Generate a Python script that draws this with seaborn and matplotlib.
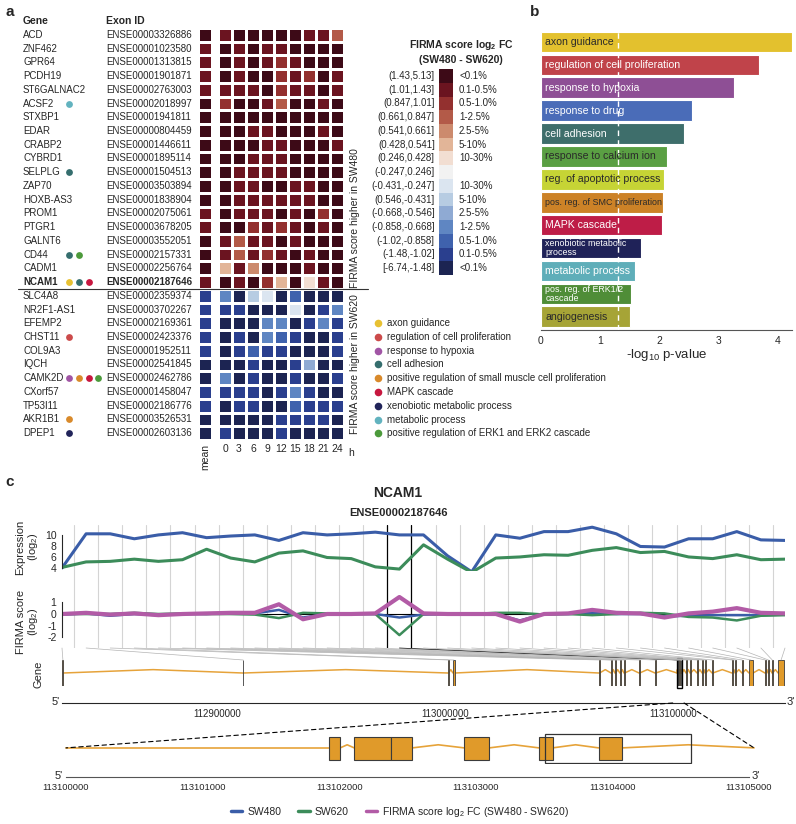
import numpy as np
import pandas as pd
import matplotlib
matplotlib.use("Agg")
import matplotlib.pyplot as plt
from matplotlib.colors import ListedColormap
from matplotlib.patches import Rectangle, ConnectionPatch
from matplotlib.lines import Line2D
import seaborn as sns

# ---------------- data: panel a ----------------
genes = ["ACD", "ZNF462", "GPR64", "PCDH19", "ST6GALNAC2", "ACSF2", "STXBP1", "EDAR",
         "CRABP2", "CYBRD1", "SELPLG", "ZAP70", "HOXB-AS3", "PROM1", "PTGR1", "GALNT6",
         "CD44", "CADM1", "NCAM1", "SLC4A8", "NR2F1-AS1", "EFEMP2", "CHST11", "COL9A3",
         "IQCH", "CAMK2D", "CXorf57", "TP53I11", "AKR1B1", "DPEP1"]
exon_ids = ["ENSE00003326886", "ENSE00001023580", "ENSE00001313815", "ENSE00001901871",
            "ENSE00002763003", "ENSE00002018997", "ENSE00001941811", "ENSE00000804459",
            "ENSE00001446611", "ENSE00001895114", "ENSE00001504513", "ENSE00003503894",
            "ENSE00001838904", "ENSE00002075061", "ENSE00003678205", "ENSE00003552051",
            "ENSE00002157331", "ENSE00002256764", "ENSE00002187646", "ENSE00002359374",
            "ENSE00003702267", "ENSE00002169361", "ENSE00002423376", "ENSE00001952511",
            "ENSE00002541845", "ENSE00002462786", "ENSE00001458047", "ENSE00002186776",
            "ENSE00003526531", "ENSE00002603136"]
time_points = [0, 3, 6, 9, 12, 15, 18, 21, 24]

# bin index of each cell: 1 = (1.43,5.13] ... 15 = [-6.74,-1.48]
mean_bin = [1, 2, 2, 2, 2, 1, 1, 1, 1, 1, 1, 1, 1, 2, 2, 1, 1, 1, 2,
            14, 14, 14, 14, 14, 15, 15, 14, 14, 15, 15]
time_bin = [
    [2, 1, 1, 1, 1, 1, 2, 2, 4],
    [1, 2, 1, 2, 2, 1, 1, 1, 1],
    [1, 2, 1, 2, 3, 2, 1, 1, 1],
    [1, 2, 1, 1, 3, 2, 3, 1, 2],
    [2, 2, 2, 1, 3, 2, 2, 1, 2],
    [3, 1, 1, 2, 4, 1, 1, 2, 1],
    [1, 1, 1, 1, 1, 1, 1, 1, 1],
    [1, 1, 2, 2, 1, 1, 1, 2, 1],
    [1, 1, 1, 2, 2, 1, 1, 1, 2],
    [1, 1, 2, 2, 2, 1, 1, 1, 1],
    [1, 2, 2, 2, 2, 1, 1, 1, 1],
    [1, 2, 2, 1, 1, 2, 2, 1, 1],
    [1, 2, 2, 2, 2, 2, 2, 1, 1],
    [1, 2, 2, 2, 1, 2, 1, 3, 1],
    [1, 1, 3, 2, 3, 2, 1, 2, 1],
    [2, 4, 2, 2, 1, 2, 1, 1, 1],
    [2, 4, 2, 3, 2, 1, 2, 1, 1],
    [6, 2, 5, 1, 1, 1, 2, 1, 1],
    [1, 2, 1, 3, 6, 1, 7, 2, 1],
    [12, 15, 10, 9, 15, 13, 15, 15, 15],
    [14, 14, 15, 15, 15, 9, 15, 14, 12],
    [15, 15, 15, 12, 12, 15, 14, 12, 14],
    [15, 14, 15, 12, 13, 14, 15, 15, 14],
    [15, 14, 13, 14, 14, 15, 15, 15, 14],
    [15, 15, 14, 15, 15, 14, 11, 15, 15],
    [12, 15, 14, 15, 15, 14, 15, 15, 14],
    [14, 14, 14, 15, 14, 12, 14, 15, 15],
    [15, 14, 14, 15, 15, 13, 14, 14, 14],
    [15, 15, 15, 15, 14, 14, 14, 14, 15],
    [14, 15, 15, 15, 14, 15, 15, 15, 15],
]
bin_ranges = ["(1.43,5.13]", "(1.01,1.43]", "(0.847,1.01]", "(0.661,0.847]", "(0.541,0.661]",
              "(0.428,0.541]", "(0.246,0.428]", "(-0.247,0.246]", "(-0.431,-0.247]",
              "(0.546,-0.431]", "(-0.668,-0.546]", "(-0.858,-0.668]", "(-1.02,-0.858]",
              "(-1.48,-1.02]", "[-6.74,-1.48]"]
bin_pcts = ["<0.1%", "0.1-0.5%", "0.5-1.0%", "1-2.5%", "2.5-5%", "5-10%", "10-30%", "",
            "10-30%", "5-10%", "2.5-5%", "1-2.5%", "0.5-1.0%", "0.1-0.5%", "<0.1%"]
bin_colors = ["#3D0A17", "#6B1420", "#93302F", "#B35A48", "#CC8A6D", "#E2B598", "#F2DED2",
              "#F2F2F2", "#DBE5F0", "#B7CCE2", "#8FAAD3", "#5F86C2", "#3F62AD", "#2A3F8E",
              "#1C2452"]

legend_terms = ["axon guidance", "regulation of cell proliferation", "response to hypoxia",
                "cell adhesion", "positive regulation of small muscle cell proliferation",
                "MAPK cascade", "xenobiotic metabolic process", "metabolic process",
                "positive regulation of ERK1 and ERK2 cascade"]
legend_colors = ["#E8C132", "#CC4B4B", "#A155A5", "#356E6E", "#D98A2B", "#C7173F",
                 "#21245A", "#62B3BF", "#4C9A3B"]
gene_terms = {"ACSF2": [7], "SELPLG": [3], "CD44": [3, 8], "NCAM1": [0, 3, 5],
              "CHST11": [1], "CAMK2D": [2, 4, 5, 8], "AKR1B1": [4], "DPEP1": [6]}

# ---------------- data: panel b ----------------
go_terms = ["axon guidance", "regulation of cell proliferation", "response to hypoxia",
            "response to drug", "cell adhesion", "response to calcium ion",
            "reg. of apoptotic process", "pos. reg. of SMC proliferation", "MAPK cascade",
            "xenobiotic metabolic\nprocess", "metabolic process", "pos. reg. of ERK1/2\ncascade",
            "angiogenesis"]
go_logp = [4.24, 3.68, 3.26, 2.55, 2.42, 2.12, 2.08, 2.06, 2.04, 1.69, 1.59, 1.52, 1.51]
go_colors = ["#E3C12E", "#C0434A", "#8E4F95", "#4A6CB8", "#3E6E6B", "#5A9F43", "#C6D435",
             "#CC8227", "#BE1D47", "#1F2258", "#5FAEB9", "#4F8D37", "#A6A436"]
go_dark_text = [True, False, False, False, False, True, True, True, False, False, False,
                False, True]
go_small = [False, False, False, False, False, False, False, True, False, True, False,
            True, False]
p_cutoff = 0.05

# ---------------- data: panel c ----------------
exon_index = list(range(31))
sw480_expr = [4.0, 10.2, 10.2, 9.3, 10.0, 10.4, 9.5, 9.8, 10.0, 9.0, 10.4, 10.0, 10.2, 10.5,
              10.0, 10.0, 6.2, 3.3, 10.0, 9.4, 10.6, 10.6, 11.4, 10.2, 7.9, 7.8, 9.3, 9.3,
              10.6, 9.1, 9.0]
sw620_expr = [4.1, 5.1, 5.2, 5.6, 5.2, 5.5, 7.4, 5.8, 5.1, 6.7, 7.1, 5.9, 5.7, 4.2, 3.8,
              8.2, 5.6, 3.2, 5.8, 6.0, 6.4, 6.3, 7.2, 7.7, 6.8, 7.0, 6.0, 5.7, 6.4, 5.5, 5.6]
sw480_firma = [-0.05, 0.05, -0.15, 0.0, -0.1, 0.0, 0.0, 0.1, 0.05, 0.35, -0.3, 0.0, 0.0, 0.0,
               -0.3, -0.05, 0.0, 0.0, 0.0, -0.55, 0.0, 0.0, 0.1, 0.0, 0.0, -0.2, -0.15, -0.1,
               -0.1, -0.1, -0.05]
sw620_firma = [0.0, 0.0, 0.0, 0.1, 0.0, 0.05, 0.0, 0.0, -0.05, -0.35, 0.1, 0.05, 0.0, 0.0,
               -1.8, 0.0, 0.0, 0.0, 0.1, 0.1, -0.05, 0.0, -0.1, 0.0, 0.1, 0.05, -0.25, -0.3,
               -0.55, -0.15, -0.1]
fc_firma = [0.0, 0.1, -0.05, 0.05, -0.1, 0.0, 0.05, 0.1, 0.1, 0.83, -0.45, 0.0, 0.0, 0.05,
            1.45, 0.05, 0.0, 0.0, 0.0, -0.65, 0.0, 0.05, 0.35, 0.1, 0.05, -0.3, 0.05, 0.2,
            0.5, 0.1, 0.05]
highlight_exon = 14

gene_span = (112831800, 113149320)
exon_start = [112832000, 112911200, 113001300, 113003500, 113067600, 113072900, 113074600,
              113076800, 113078600, 113085200, 113092200, 113101925, 113102110, 113102381,
              113102914, 113103462, 113103899, 113105850, 113107600, 113110700, 113112900,
              113114200, 113117300, 113126000, 113127400, 113130400, 113133500, 113140500,
              113141900, 113143600, 113146300]
exon_end = [112832400, 112911500, 113001600, 113004400, 113067900, 113073200, 113074900,
            113077100, 113078900, 113085500, 113092500, 113102007, 113102381, 113102536,
            113103099, 113103562, 113104073, 113106100, 113107900, 113111000, 113113200,
            113114500, 113117600, 113126300, 113127700, 113130700, 113135300, 113140800,
            113142200, 113143900, 113148900]
zoom_span = (113100000, 113105000)
zoom_gene_end = 113105037
zoom_box = (113103507, 113104573)

# ---------------- style ----------------
sns.set_style("white")
plt.rcParams["font.family"] = ["Liberation Sans", "DejaVu Sans"]
plt.rcParams["axes.unicode_minus"] = False
plt.rcParams["mathtext.default"] = "regular"

W, H = 796, 824
fig = plt.figure(figsize=(W / 100, H / 100), dpi=100)


def add_ax(x0, y0, x1, y1, **kw):
    return fig.add_axes([x0 / W, 1 - y1 / H, (x1 - x0) / W, (y1 - y0) / H], **kw)


ROW_TOP, ROW_H = 28.0, 13.733


def row_y(i):
    return ROW_TOP + (i + 0.5) * ROW_H


cmap = ListedColormap(bin_colors)
n_rows = len(genes)
hm_bottom = ROW_TOP + n_rows * ROW_H

# ---- panel a heatmaps ----
ax_mean = add_ax(198, ROW_TOP, 212, hm_bottom)
sns.heatmap(np.array(mean_bin)[:, None], ax=ax_mean, cmap=cmap, vmin=0.5, vmax=15.5,
            cbar=False, linewidths=1, linecolor="white", xticklabels=["mean"],
            yticklabels=False)
ax_mean.tick_params(axis="x", length=0, labelsize=7.5, labelrotation=90, pad=3)

ax_time = add_ax(218, ROW_TOP, 344, hm_bottom)
sns.heatmap(np.array(time_bin), ax=ax_time, cmap=cmap, vmin=0.5, vmax=15.5, cbar=False,
            linewidths=1, linecolor="white", xticklabels=time_points, yticklabels=False)
ax_time.tick_params(axis="x", length=0, labelsize=7.5, labelrotation=0, pad=3)

# colour key
ax_cb = add_ax(439, 69.1, 453, 69.1 + 15 * ROW_H)
sns.heatmap(np.arange(1, 16)[:, None], ax=ax_cb, cmap=cmap, vmin=0.5, vmax=15.5, cbar=False,
            xticklabels=False, yticklabels=bin_ranges)
ax_cb.tick_params(axis="y", length=0, labelsize=7, labelrotation=0, pad=3)
for k, p in enumerate(bin_pcts):
    ax_cb.text(1.43, k + 0.5, p, va="center", ha="left", fontsize=7)

# ---- panel b ----
ax_b = add_ax(541, 30, 792, 330)
df_go = pd.DataFrame({"term": go_terms, "logp": go_logp})
sns.barplot(data=df_go, x="logp", y="term", hue="term", palette=dict(zip(go_terms, go_colors)),
            legend=False, width=0.9, saturation=1, edgecolor="white", linewidth=0.8, ax=ax_b)
ax_b.set_xlim(0, 4.24)
ax_b.set_ylim(12.58, -0.524)
ax_b.axvline(-np.log10(p_cutoff), color="white", lw=1, ls=(0, (4, 3)), zorder=3)
for i, term in enumerate(go_terms):
    ax_b.text(0.07, i, term, va="center", ha="left", zorder=4,
              color="#2a2a2a" if go_dark_text[i] else "white",
              fontsize=6.4 if go_small[i] else 7.6, linespacing=0.95)
sns.despine(ax=ax_b, left=True)
ax_b.spines["bottom"].set_color("#555555")
ax_b.set_yticks([])
ax_b.set_ylabel("")
ax_b.set_xticks([0, 1, 2, 3, 4])
ax_b.tick_params(axis="x", length=3, labelsize=7.5, pad=1, color="#555555")
ax_b.set_xlabel("-log$_{10}$ p-value", fontsize=9.5, labelpad=1)

# ---- panel c ----
blue, green, pink = "#3A5DA8", "#3C8C5A", "#B25BA6"
X0, X1 = 62, 785
ax_grid = add_ax(X0, 525, X1, 648, zorder=0)
ax_grid.set_xlim(0, 30)
ax_grid.axis("off")
for i in exon_index[:-1]:
    hl = i in (highlight_exon - 1, highlight_exon)
    ax_grid.axvline(i + 0.5, color="black" if hl else "#d4d4d4", lw=0.9 if hl else 0.8)

ax_e = add_ax(X0, 525, X1, 571, zorder=1)
ax_e.patch.set_visible(False)
df_expr = pd.DataFrame({"exon": exon_index * 2, "value": sw480_expr + sw620_expr,
                        "line": ["SW480"] * 31 + ["SW620"] * 31})
sns.lineplot(data=df_expr, x="exon", y="value", hue="line",
             palette={"SW480": blue, "SW620": green}, linewidth=2.2, legend=False, ax=ax_e)
ax_e.set_xlim(0, 30)
ax_e.set_ylim(3.45, 11.8)
sns.despine(ax=ax_e, bottom=True)
ax_e.spines["left"].set_bounds(4, 10)
ax_e.set_xticks([])
ax_e.set_yticks([4, 6, 8, 10])
ax_e.tick_params(axis="y", length=3, labelsize=7.5, pad=1)
ax_e.set_xlabel("")
ax_e.set_ylabel("")

ax_f = add_ax(X0, 595, X1, 648, zorder=1)
ax_f.patch.set_visible(False)
ax_f.axhline(0, color="black", lw=0.8)
df_firma = pd.DataFrame({"exon": exon_index * 2, "value": sw480_firma + sw620_firma,
                         "line": ["SW480"] * 31 + ["SW620"] * 31})
sns.lineplot(data=df_firma, x="exon", y="value", hue="line",
             palette={"SW480": blue, "SW620": green}, linewidth=1.8, legend=False, ax=ax_f)
sns.lineplot(x=exon_index, y=fc_firma, color=pink, linewidth=3.0, ax=ax_f)
ax_f.set_xlim(0, 30)
ax_f.set_ylim(-2.9, 1.62)
sns.despine(ax=ax_f, bottom=True)
ax_f.spines["left"].set_bounds(-2, 1)
ax_f.set_xticks([])
ax_f.set_yticks([-2, -1, 0, 1])
ax_f.tick_params(axis="y", length=3, labelsize=7.5, pad=1)
ax_f.set_xlabel("")
ax_f.set_ylabel("")

# gene track
exon_col, intron_col = "#E09A2A", "#E6A33A"
ax_g = add_ax(X0, 660, X1, 686)
ax_g.set_xlim(*gene_span)
ax_g.set_ylim(0, 1)
ax_g.axis("off")
for i in range(len(exon_start) - 1):
    a, b = exon_end[i], exon_start[i + 1]
    ax_g.plot([a, (a + b) / 2, b], [0.5, 0.63, 0.5], color=intron_col, lw=1.1, zorder=1)
for s, e in zip(exon_start, exon_end):
    ax_g.add_patch(Rectangle((s, 0), e - s, 1, fc=exon_col, ec="#3b3b3b", lw=0.6, zorder=2))
hs, he = exon_start[highlight_exon], exon_end[highlight_exon]
ax_g.add_patch(Rectangle((hs - 900, -0.08), he - hs + 1800, 1.16, fill=False, ec="black",
                         lw=1.0, zorder=3, clip_on=False))

for i, (s, e) in enumerate(zip(exon_start, exon_end)):
    con = ConnectionPatch(xyA=(exon_index[i], 0), coordsA=ax_f.get_xaxis_transform(),
                          xyB=((s + e) / 2, 1), coordsB=ax_g.get_xaxis_transform(),
                          color="black" if i == highlight_exon else "#b4b4b4", lw=0.5)
    fig.add_artist(con)

ax_x1 = add_ax(X0, 690, X1, 703)
ax_x1.set_xlim(*gene_span)
sns.despine(ax=ax_x1, left=True)
ax_x1.set_yticks([])
ax_x1.set_xticks([112900000, 113000000, 113100000])
ax_x1.set_xticklabels(["112900000", "113000000", "113100000"])
ax_x1.tick_params(axis="x", length=3, labelsize=7, pad=1)
ax_x1.patch.set_visible(False)

# zoomed gene region
ZX0, ZX1 = 66, 749
ax_z = add_ax(ZX0, 733, ZX1, 764)
ax_z.set_xlim(*zoom_span)
ax_z.set_ylim(0, 1)
ax_z.axis("off")
zs = [s for s in exon_start if zoom_span[0] <= s <= zoom_span[1]]
ze = [e for s, e in zip(exon_start, exon_end) if zoom_span[0] <= s <= zoom_span[1]]
bounds = [zoom_span[0]] + [v for pair in zip(zs, ze) for v in pair] + [zoom_gene_end]
for a, b in zip(bounds[0::2], bounds[1::2]):
    if b - a > 0:
        peak = 0.52 if a == zoom_span[0] else 0.62
        ax_z.plot([a, (a + b) / 2, b], [0.52, peak, 0.52], color=intron_col, lw=1.2,
                  zorder=1, clip_on=False)
for s, e in zip(zs, ze):
    ax_z.add_patch(Rectangle((s, 0.13), e - s, 0.74, fc=exon_col, ec="#3b3b3b", lw=0.8, zorder=2))
ax_z.add_patch(Rectangle((zoom_box[0], 0.03), zoom_box[1] - zoom_box[0], 0.94, fill=False,
                         ec="#333333", lw=0.9, zorder=3))

for xa, xb in [(zoom_span[0], zoom_span[0]), (zoom_span[1], zoom_gene_end)]:
    con = ConnectionPatch(xyA=(xa, 0), coordsA=ax_x1.get_xaxis_transform(),
                          xyB=(xb, 0.52), coordsB=ax_z.transData,
                          color="black", lw=0.8, ls=(0, (4, 3)))
    fig.add_artist(con)

ax_x2 = add_ax(ZX0, 766, ZX1, 777)
ax_x2.set_xlim(*zoom_span)
sns.despine(ax=ax_x2, left=True)
ax_x2.spines["bottom"].set_color("#555555")
ax_x2.set_yticks([])
zt = list(range(zoom_span[0], zoom_span[1] + 1, 1000))
ax_x2.set_xticks(zt)
ax_x2.set_xticklabels([str(t) for t in zt])
ax_x2.tick_params(axis="x", length=3, labelsize=6.8, pad=1, color="#555555")
ax_x2.patch.set_visible(False)

fig.legend(handles=[Line2D([], [], color=blue, lw=2.5), Line2D([], [], color=green, lw=2.5),
                    Line2D([], [], color=pink, lw=2.5)],
           labels=["SW480", "SW620", "FIRMA score log$_2$ FC (SW480 - SW620)"],
           loc="center", bbox_to_anchor=(400 / W, 1 - 812 / H), ncol=3, frameon=False,
           fontsize=7.5, handlelength=1.1, columnspacing=1.6, handletextpad=0.5)

# ---------------- text overlay (pixel coordinates) ----------------
ov = fig.add_axes([0, 0, 1, 1], zorder=10)
ov.set_xlim(0, W)
ov.set_ylim(H, 0)
ov.axis("off")

ov.text(5, 12, "a", fontsize=11, fontweight="bold", va="center")
ov.text(530, 12, "b", fontsize=11, fontweight="bold", va="center")
ov.text(5, 482, "c", fontsize=11, fontweight="bold", va="center")

ov.text(23, 21, "Gene", fontsize=7.5, fontweight="bold", va="center")
ov.text(106, 21, "Exon ID", fontsize=7.5, fontweight="bold", va="center")
for i, (g, ex) in enumerate(zip(genes, exon_ids)):
    wt = "bold" if g == "NCAM1" else "normal"
    ov.text(23, row_y(i), g, fontsize=7, va="center", fontweight=wt)
    ov.text(106, row_y(i), ex, fontsize=7, va="center", fontweight=wt)
    for k, t in enumerate(gene_terms.get(g, [])):
        ov.scatter(69 + 9.8 * k, row_y(i), s=24, color=legend_colors[t], linewidths=0)
ov.plot([18, 368], [ROW_TOP + 19 * ROW_H, ROW_TOP + 19 * ROW_H], color="#333333", lw=0.8)
ov.text(348, 453, "h", fontsize=7.5, va="center")
ov.text(355, ROW_TOP + 19 * ROW_H - 1, "FIRMA score higher in SW480", rotation=90,
        fontsize=7.5, ha="center", va="bottom")
ov.text(355, (ROW_TOP + 19 * ROW_H + hm_bottom) / 2, "FIRMA score higher in SW620",
        rotation=90, fontsize=7.5, ha="center", va="center")

ov.text(461, 45, "FIRMA score log$_2$ FC", fontsize=7.5, fontweight="bold", ha="center",
        va="center")
ov.text(461, 60, "(SW480 - SW620)", fontsize=7.5, fontweight="bold", ha="center", va="center")

for k, (term, col) in enumerate(zip(legend_terms, legend_colors)):
    y = 323 + 13.8 * k
    ov.scatter(378, y, s=30, color=col, linewidths=0)
    ov.text(387, y, term, fontsize=7, va="center")

ov.text(398, 493, "NCAM1", fontsize=10, fontweight="bold", ha="center", va="center")
ov.text(398, 513, "ENSE00002187646", fontsize=8, fontweight="bold", ha="center", va="center")
ov.text(28, 547, "Expression\n(log$_2$)", rotation=90, fontsize=8, ha="center", va="center",
        multialignment="center", linespacing=1.1)
ov.text(28, 622, "FIRMA score\n(log$_2$)", rotation=90, fontsize=8, ha="center", va="center",
        multialignment="center", linespacing=1.1)
ov.text(38, 674, "Gene", rotation=90, fontsize=8, ha="center", va="center")
ov.text(60, 702, "5'", fontsize=8, ha="right", va="center")
ov.text(787, 702, "3'", fontsize=8, ha="left", va="center")
ov.text(63, 776, "5'", fontsize=8, ha="right", va="center")
ov.text(752, 776, "3'", fontsize=8, ha="left", va="center")

fig.savefig("out.png", dpi=100)
